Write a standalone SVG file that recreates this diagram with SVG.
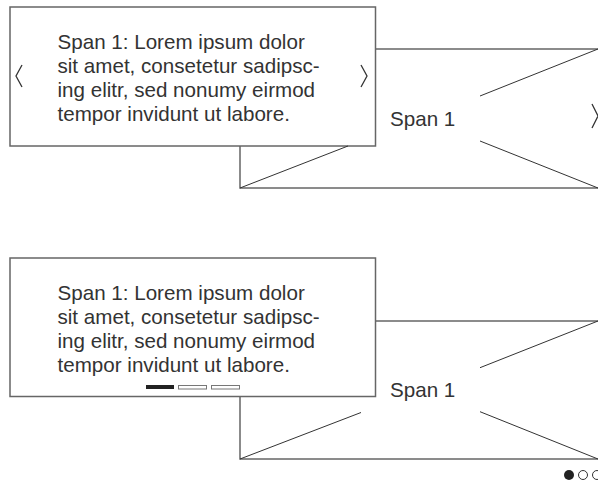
<svg xmlns="http://www.w3.org/2000/svg" width="598" height="486" viewBox="0 0 598 486">
  <style>
    .frame { fill: #ffffff; stroke: #666666; stroke-width: 1.5; }
    .diag { stroke: #333333; stroke-width: 1; fill: none; }
    .chev { stroke: #333333; stroke-width: 1.3; fill: none; stroke-linejoin: miter; }
    .txt { font-family: "Liberation Sans", Arial, sans-serif; font-size: 20.6px; fill: #333333; }
    .bar-on { fill: #222222; }
    .bar-off { fill: #ffffff; stroke: #777777; stroke-width: 1; }
  </style>

  <rect width="598" height="486" fill="#ffffff"/>

  <!-- Variant A: image slide with caption and arrow navigation -->
  <g id="image-a">
    <rect class="frame" x="240" y="49" width="380" height="139"/>
    <text class="txt" x="390" y="126">Span 1</text>
    <polyline class="chev" points="592,104 598,116 592,128"/>
  </g>
  <g id="caption-a">
    <rect class="frame" x="10" y="7" width="365.5" height="139"/>
    <text class="txt">
      <tspan x="57.5" y="49.4">Span 1: Lorem ipsum dolor</tspan>
      <tspan x="57.5" y="73.2">sit amet, consetetur sadipsc-</tspan>
      <tspan x="57.5" y="97">ing elitr, sed nonumy eirmod</tspan>
      <tspan x="57.5" y="120.8">tempor invidunt ut labore.</tspan>
    </text>
    <polyline class="chev" points="22,65 16,76 22,87"/>
    <polyline class="chev" points="361,65 367,76 361,87"/>
  </g>

  <!-- Variant B: image slide with caption, bar and dot indicators -->
  <g id="image-b">
    <rect class="frame" x="240" y="321" width="380" height="138"/>
    <text class="txt" x="390" y="396.7">Span 1</text>
  </g>
  <g id="caption-b">
    <rect class="frame" x="10" y="258" width="365.5" height="138.5"/>
    <text class="txt">
      <tspan x="57.5" y="300.4">Span 1: Lorem ipsum dolor</tspan>
      <tspan x="57.5" y="324.2">sit amet, consetetur sadipsc-</tspan>
      <tspan x="57.5" y="348">ing elitr, sed nonumy eirmod</tspan>
      <tspan x="57.5" y="371.8">tempor invidunt ut labore.</tspan>
    </text>
    <rect class="bar-on" x="146" y="385" width="28" height="4"/>
    <rect class="bar-off" x="178.5" y="385.5" width="28" height="3.5"/>
    <rect class="bar-off" x="211.5" y="385.5" width="28" height="3.5"/>
  </g>
  <g id="dots-b">
    <circle cx="569" cy="475" r="5" fill="#222222"/>
    <circle cx="583" cy="475" r="4.5" fill="none" stroke="#333333" stroke-width="1"/>
    <circle cx="597" cy="475" r="4.5" fill="none" stroke="#333333" stroke-width="1"/>
  </g>

  <!-- placeholder cross lines -->
  <g id="connectors">
    <line class="diag" x1="240" y1="188" x2="348" y2="146"/>
    <line class="diag" x1="480" y1="96" x2="598" y2="49"/>
    <line class="diag" x1="480" y1="141" x2="598" y2="188"/>
    <line class="diag" x1="240" y1="459" x2="361" y2="412.5"/>
    <line class="diag" x1="480" y1="367.7" x2="598" y2="321"/>
    <line class="diag" x1="480" y1="411.7" x2="598" y2="459"/>
  </g>
</svg>
